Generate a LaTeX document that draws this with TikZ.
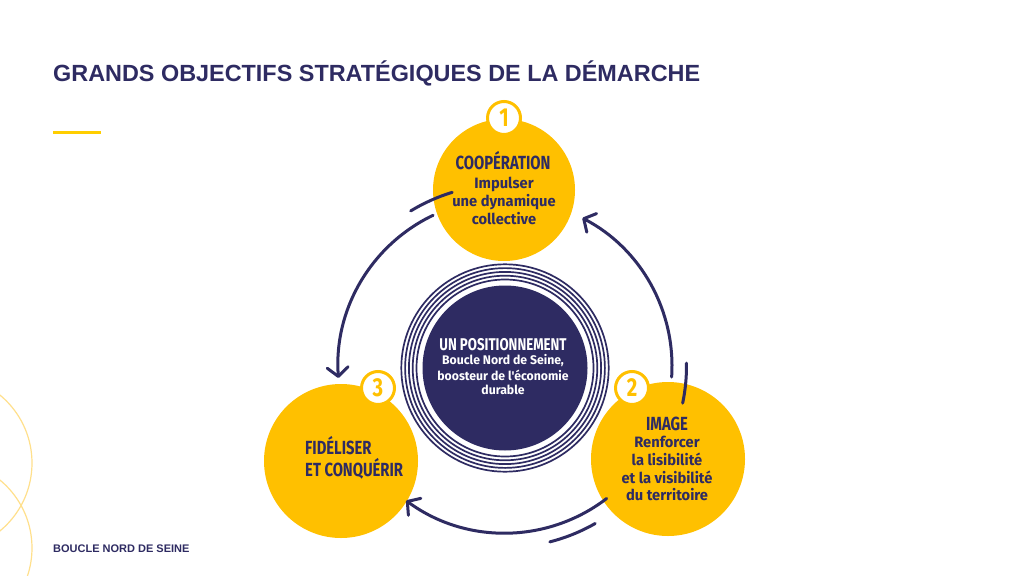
\documentclass[tikz,border=0pt]{standalone}
\usepackage{fontspec}
\setmainfont{Liberation Sans}
\newfontfamily\headfont[FakeStretch=0.78]{Fira Sans}
\newfontfamily\bodyfont[FakeStretch=0.98]{Fira Sans}
\usetikzlibrary{arrows.meta}
\definecolor{navy}{RGB}{46,43,98}
\definecolor{gold}{RGB}{255,192,0}
\definecolor{lightgold}{RGB}{255,224,140}
\definecolor{barcol}{RGB}{255,206,0}
\begin{document}
\begin{tikzpicture}[x=1pt,y=-1pt,
  bigdisk/.style={circle, fill=gold, inner sep=0pt, minimum size=#1},
  badge/.style={circle, fill=white, draw=gold, line width=3pt, inner sep=0pt, minimum size=33pt, font=\headfont\bfseries\fontsize{26}{26}\selectfont, text=gold},
  flow/.style={draw=navy, line width=3pt, line cap=round},
  tipflow/.style={flow, -{Straight Barb[length=9pt,width=21pt,round]}},
  headtxt/.style={anchor=base, inner sep=0pt, text=#1, font=\headfont\bfseries\fontsize{19}{21}\selectfont},
  bodytxt/.style={anchor=base, inner sep=0pt, text=#1, font=\bodyfont\bfseries\fontsize{15}{18}\selectfont},
  hubhead/.style={anchor=base, inner sep=0pt, text=white, font=\headfont\bfseries\fontsize{17}{19}\selectfont},
  hubbody/.style={anchor=base, inner sep=0pt, text=white, font=\bodyfont\bfseries\fontsize{12.5}{15}\selectfont},
  ring/.style={draw=navy, line width=1.7pt},
  deco/.style={draw=lightgold, line width=1.2pt}
]
\useasboundingbox[fill=white] (0,0) rectangle (1024,575);

% decorative circles at the left edge
\begin{scope}
\clip (0,0) rectangle (1024,575);
\draw[deco] (-56,463) circle[radius=88pt];
\draw[deco] (-56,548) circle[radius=88pt];
\end{scope}

% title, bar, footer
\node[anchor=base west, inner sep=0pt, text=navy, font=\bfseries\fontsize{23.4}{26}\selectfont] (title) at (53,82) {GRANDS OBJECTIFS STRATÉGIQUES DE LA DÉMARCHE};
\draw[barcol, line width=3pt] (53,132) -- (101,132);
\node[anchor=base west, inner sep=0pt, text=navy, font=\bfseries\fontsize{11}{13}\selectfont] (footer) at (53,552) {BOUCLE NORD DE SEINE};

% central hub
\coordinate (hub) at (505,366);
\coordinate (hubc) at (505,368);
\foreach \r in {88.5,92.3,96.1,99.9,103.7} \draw[ring] (hubc) circle[radius=\r pt];
\node[circle, fill=navy, inner sep=0pt, minimum size=165pt] (core) at (hubc) {};

% three objective discs
\node[bigdisk=142pt] (c1) at (504,190) {};
\node[bigdisk=154pt] (c2) at (668,459) {};
\node[bigdisk=154pt] (c3) at (341,461) {};

% arrows
\draw[tipflow] (hub) ++(-115.5:167) arc[start angle=-115.5, end angle=-184.1, radius=167];
\draw[flow] (hub) ++(-106.9:181.5) arc[start angle=-106.9, end angle=-121.3, radius=181.5];
\draw[tipflow] (hub) ++(3.8:167) arc[start angle=3.8, end angle=-62.4, radius=167];
\draw[flow] (hub) ++(11.8:181.5) arc[start angle=11.8, end angle=-0.9, radius=181.5];
\draw[tipflow] (hub) ++(52.5:167) arc[start angle=52.5, end angle=126.3, radius=167];
\draw[flow] (hub) ++(60.2:181.5) arc[start angle=60.2, end angle=75.7, radius=181.5];

% badges
\node[badge] (b1) at (504,118) {1};
\node[badge] (b2) at (632,388) {2};
\node[badge] (b3) at (378,388) {3};

% texts of disc 1
\node[headtxt=navy] (t1a) at (503,169) {COOPÉRATION};
\node[bodytxt=navy] (t1b) at (504,188) {Impulser};
\node[bodytxt=navy] (t1c) at (504,206.5) {une dynamique};
\node[bodytxt=navy] (t1d) at (504,224.5) {collective};

% texts of disc 2
\node[headtxt=navy] (t2a) at (667,430) {IMAGE};
\node[bodytxt=navy] (t2b) at (667,447.7) {Renforcer};
\node[bodytxt=navy] (t2c) at (667,465.5) {la lisibilité};
\node[bodytxt=navy] (t2d) at (667,483.2) {et la visibilité};
\node[bodytxt=navy] (t2e) at (667,500.8) {du territoire};

% texts of disc 3
\node[headtxt=navy, anchor=base west] (t3a) at (305,454.3) {FIDÉLISER};
\node[headtxt=navy, anchor=base west] (t3b) at (305,476.7) {ET CONQUÉRIR};

% texts of the hub
\node[hubhead] (h1) at (503,350) {UN POSITIONNEMENT};
\node[hubbody] (h2) at (503,364.5) {Boucle Nord de Seine,};
\node[hubbody] (h3) at (503,380) {boosteur de l'économie};
\node[hubbody] (h4) at (503,394.5) {durable};
\end{tikzpicture}
\end{document}
